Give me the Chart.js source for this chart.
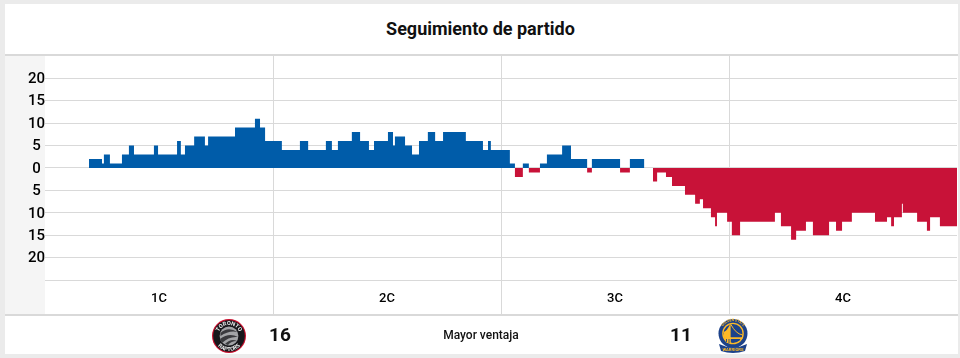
<!DOCTYPE html>
<html lang="es">
<head>
<meta charset="utf-8">
<title>Seguimiento de partido</title>
<script src="https://cdn.jsdelivr.net/npm/chart.js@4"></script>
<style>
    html, body { margin: 0; padding: 0; background: #ebebeb; }
    body { width: 960px; height: 358px; position: relative; overflow: hidden; font-family: Roboto, sans-serif; color: #111; }
    .card { position: absolute; left: 5px; top: 4px; width: 953px; height: 350px; background: #fff; }
    .title { position: absolute; left: -1px; top: 0; width: 953px; height: 50px; line-height: 50px; text-align: center; font-size: 18px; font-weight: 700; }
    .title-line { position: absolute; left: 0; top: 50px; width: 953px; height: 2px; background: #d9d9d9; }
    .axis-strip { position: absolute; left: 0; top: 51px; width: 40px; height: 260px; background: #f5f5f5; }
    .chart-box { position: absolute; left: 0; top: 51px; width: 953px; height: 260px; }
    .footer { position: absolute; left: 0; top: 310px; width: 953px; height: 40px; border-top: 2px solid #d9d9d9; }
    .footer span { position: absolute; top: 0; line-height: 38px; text-align: center; }
    .stat { width: 40px; font-size: 19px; font-weight: 700; }
    .label { left: 376px; width: 200px; font-size: 12px; font-weight: 500; }
    .footer svg { position: absolute; top: 2px; }
</style>
</head>
<body>
<div class="card">
    <div class="title">Seguimiento de partido</div>
    <div class="axis-strip"></div>
    <div class="chart-box"><canvas id="gameFlowChart" width="953" height="260"></canvas></div>
    <div class="title-line"></div>
    <div class="footer">
        <svg style="left:206px" width="36" height="36" viewBox="0 0 36 36">
            <circle cx="18" cy="18" r="17" fill="#c8102e"/>
            <circle cx="18" cy="18" r="15.8" fill="#17171b"/>
            <circle cx="18" cy="18" r="9.4" fill="#a3a4a7"/>
            <path d="M9.5 15 Q17 8 26.5 14 Q18 12 9.5 18 Z M9 21 Q18 14 27 19 Q18 18 11 25 Z M14 26 Q20 20 26 23 Q20 23 17 27 Z" fill="#3a3a3e"/>
            <path id="arcTop" d="M7 18 A11 11 0 0 1 29 18" fill="none"/>
            <path id="arcBottom" d="M3 18 A15 15 0 0 0 33 18" fill="none"/>
            <text font-family="Roboto" font-size="5.6" font-weight="700" fill="#eee" text-anchor="middle"><textPath href="#arcTop" startOffset="50%">TORONTO</textPath></text>
            <text font-family="Roboto" font-size="5.6" font-weight="700" fill="#eee" text-anchor="middle"><textPath href="#arcBottom" startOffset="50%">RAPTORS</textPath></text>
        </svg>
        <span class="stat" style="left:255px">16</span>
        <span class="label">Mayor ventaja</span>
        <span class="stat" style="left:656px">11</span>
        <svg style="left:710px" width="36" height="36" viewBox="0 0 36 36">
            <circle cx="18" cy="15.5" r="14.5" fill="#1d428a"/>
            <circle cx="18" cy="15.5" r="10.8" fill="#fdb927"/>
            <circle cx="18" cy="15.5" r="9.4" fill="#1d428a"/>
            <path d="M8.8 14 Q12 13 15 6.6 L15.8 6.4 L15.8 25 H12 Q9.5 22 8.8 18 Z" fill="#fdb927"/>
            <path d="M15.8 7 Q21 17 27 17.2 L27 19 H15.8 Z" fill="#1d428a"/>
            <path d="M8.6 19.3 H27.4 V21 H9.2 Z" fill="#fdb927"/>
            <path d="M15.8 6.4 Q21 16 27.2 16.8" fill="none" stroke="#fdb927" stroke-width="1"/>
            <path d="M11.5 21 V24 M14 21 V25" stroke="#1d428a" stroke-width="0.9"/>
            <path d="M4 26 Q18 33 32 26 L30 33 Q18 37 6 33 Z" fill="#1d428a"/>
            <path id="arcRing" d="M5.6 15.5 A12.4 12.4 0 0 1 30.4 15.5" fill="none"/>
            <text font-family="Roboto" font-size="3.4" font-weight="700" fill="#fdb927" text-anchor="middle"><textPath href="#arcRing" startOffset="50%">GOLDEN STATE</textPath></text>
            <text x="18" y="33" font-family="Roboto" font-size="4.2" font-weight="700" fill="#fdb927" text-anchor="middle">WARRIORS</text>
        </svg>
    </div>
</div>
<script>
// Elapsed game time in seconds where the margin changes, and the margin from there on
const elapsedSeconds = [
    139, 180, 186, 205, 243, 265, 281, 344, 357, 417, 429, 442, 471, 505, 515, 600, 663, 679, 695,
    748, 805, 831, 887, 906, 925, 969, 995, 1023, 1039, 1083, 1099, 1105, 1137, 1159, 1181, 1209,
    1232, 1257, 1329, 1383, 1399, 1408, 1468, 1484, 1509, 1528, 1563, 1585, 1633, 1661, 1712, 1727,
    1816, 1847, 1892, 1920, 1933, 1961, 1980, 2021, 2053, 2068, 2078, 2103, 2116, 2122, 2154, 2169,
    2195, 2305, 2324, 2356, 2372, 2403, 2425, 2476, 2498, 2517, 2548, 2621, 2659, 2672, 2681, 2706,
    2709, 2754, 2785, 2795, 2826, 2880
];
const margin = [
    2, 1, 3, 1, 3, 5, 3, 5, 3, 6, 3, 5, 7, 5, 7, 9, 11, 9, 6,
    4, 6, 4, 6, 4, 6, 8, 6, 4, 6, 8, 5, 7, 5, 3, 6,
    8, 6, 8, 6, 4, 6, 4, 1, -2, 1, -1, 1, 3, 5, 2, -1, 2,
    -1, 2, 0, -3, -1, -2, -4, -6, -8, -7, -9, -11, -13, -10, -12, -15,
    -12, -10, -13, -16, -14, -12, -15, -12, -14, -12, -10, -12, -11, -13, -11, -8,
    -10, -12, -14, -11, -13, -13
];
const quarterLabels = ['1C', '2C', '3C', '4C'];
const quarterSeconds = 720;
const marginTicks = [20, 15, 10, 5, 0, -5, -10, -15, -20, -25];

const gridColor = '#d9d9d9';

// Quarter names sit inside the plot, under the last grid line
const quarterLabelsPlugin = {
    id: 'quarterLabels',
    afterDraw(chart) {
        const { ctx, scales, chartArea } = chart;
        ctx.save();
        ctx.font = '500 13px Roboto';
        ctx.fillStyle = '#000';
        ctx.textAlign = 'center';
        ctx.textBaseline = 'middle';
        quarterLabels.forEach((label, i) => {
            ctx.fillText(label, scales.x.getPixelForValue((i + 0.5) * quarterSeconds), chartArea.bottom - 16);
        });
        ctx.restore();
    }
};

const ctx = document.getElementById('gameFlowChart').getContext('2d');
new Chart(ctx, {
    type: 'line',
    data: {
        datasets: [{
            data: elapsedSeconds.map((t, i) => ({ x: t, y: margin[i] })),
            stepped: true,
            borderWidth: 0,
            pointRadius: 0,
            fill: { target: 'origin', above: '#005ca9', below: '#c81238' }
        }]
    },
    plugins: [quarterLabelsPlugin],
    options: {
        responsive: false,
        animation: false,
        layout: { padding: { right: 1 } },
        plugins: { legend: { display: false }, tooltip: { enabled: false } },
        scales: {
            x: {
                type: 'linear',
                min: 0,
                max: quarterSeconds * 4,
                afterFit: scale => {
                    scale.height = 0;
                    scale.paddingLeft = 0;
                    scale.paddingRight = 0;
                },
                afterBuildTicks: scale => {
                    const ticks = [];
                    for (let t = quarterSeconds; t < scale.max; t += quarterSeconds) ticks.push({ value: t });
                    scale.ticks = ticks;
                },
                border: { display: false },
                grid: { drawTicks: false, color: gridColor },
                ticks: { display: false }
            },
            y: {
                min: -32.8,
                max: 25.2,
                afterFit: scale => {
                    scale.width = 40;
                    scale.paddingTop = 0;
                    scale.paddingBottom = 0;
                },
                afterBuildTicks: scale => {
                    scale.ticks = marginTicks.map(value => ({ value }));
                },
                border: { display: false },
                grid: { drawTicks: false, color: gridColor },
                ticks: {
                    padding: 0,
                    align: 'center',
                    crossAlign: 'center',
                    labelOffset: 1,
                    color: '#000',
                    font: { family: 'Roboto', size: 15, weight: '500' },
                    callback: value => (value === -25 ? '' : String(Math.abs(value)))
                }
            }
        }
    }
});
</script>
</body>
</html>
